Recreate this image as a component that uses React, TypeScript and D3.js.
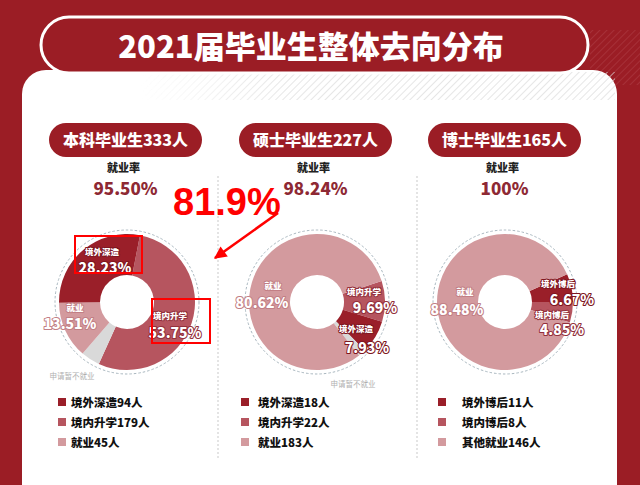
import React from "react";
import * as d3 from "d3";

// ---------- data ----------
const chartTitle = "2021届毕业生整体去向分布";
const panelTitles = ["本科毕业生333人", "硕士毕业生227人", "博士毕业生165人"];
const rateLabel = "就业率";
const employmentRates = ["95.50%", "98.24%", "100%"];

const bachelorCategories = ["境内升学", "申请暂不就业", "就业", "境外深造"];
const bachelorValues = [53.75, 4.51, 13.51, 28.23];
const masterCategories = ["境内升学", "境外深造", "申请暂不就业", "就业"];
const masterValues = [9.69, 7.93, 1.76, 80.62];
const doctorCategories = ["境外博后", "境内博后", "就业"];
const doctorValues = [6.67, 4.85, 88.48];

const bachelorLegend = ["境外深造94人", "境内升学179人", "就业45人"];
const masterLegend = ["境外深造18人", "境内升学22人", "就业183人"];
const doctorLegend = ["境外博后11人", "境内博后8人", "其他就业146人"];

const annotationValue = "81.9%";

// ---------- styles / layout ----------
const RED = "#9b1d25";
const C_DARK = "#9a1f29";
const C_MID = "#b6555f";
const C_LIGHT = "#d39a9e";
const C_GRAY = "#d9d9d9";
const FONT = "'Noto Sans CJK SC', 'Noto Sans', sans-serif";

const colorOf = (cat: string) =>
  cat.startsWith("境外") ? C_DARK : cat.startsWith("境内") ? C_MID : cat === "申请暂不就业" ? C_GRAY : C_LIGHT;
const strokeOf = (cat: string) =>
  cat.startsWith("境外") ? "#7e1620" : cat.startsWith("境内") ? "#93303b" : "#c27f85";

const CY = 302;
const R_OUT = 68;
const R_IN = 27;
const deg = (a: number) => (a * Math.PI) / 180;

// label offsets relative to each donut centre: [nameDx, nameDy, pctDx, pctDy]
const panels = [
  {
    cx: 127, pillX: 49, start: 11,
    cats: bachelorCategories, vals: bachelorValues, legend: bachelorLegend,
    legendSq: 58, legendTx: 71,
    labels: { "境外深造": [-25, -51, -22, -35], "就业": [-52, 5, -57, 21], "境内升学": [43, 13, 48, 30] } as Record<string, number[]>,
    grayLabel: [-55, 73],
  },
  {
    cx: 317, pillX: 239, start: 72,
    cats: masterCategories, vals: masterValues, legend: masterLegend,
    legendSq: 241, legendTx: 258,
    labels: { "就业": [-44, -17, -55, 0], "境内升学": [47, -11, 58, 5], "境外深造": [39, 26, 50, 45] } as Record<string, number[]>,
    grayLabel: [36, 81],
  },
  {
    cx: 505, pillX: 428, start: 66,
    cats: doctorCategories, vals: doctorValues, legend: doctorLegend,
    legendSq: 438, legendTx: 462,
    labels: { "就业": [-40, -11, -48, 7], "境外博后": [53, -19, 67, -3], "境内博后": [47, 12, 57, 27] } as Record<string, number[]>,
    grayLabel: null as number[] | null,
  },
];

const legendColors = [C_DARK, C_MID, C_LIGHT];
const legendRows = [402, 422, 442];

export default function App() {
  const arc = d3.arc<d3.PieArcDatum<number>>().innerRadius(R_IN).outerRadius(R_OUT);

  return (
    <svg
      width={640}
      height={485}
      viewBox="0 0 640 485"
      style={{ position: "absolute", left: 0, top: 0, display: "block" }}
      fontFamily={FONT}
    >
      <defs>
        <pattern id="hatch" width="5" height="5" patternUnits="userSpaceOnUse" patternTransform="rotate(45)">
          <line x1="0" y1="0" x2="0" y2="5" stroke="#d8d8d8" strokeWidth="1.6" />
        </pattern>
        <pattern id="hatchRed" width="5" height="5" patternUnits="userSpaceOnUse" patternTransform="rotate(45)">
          <line x1="0" y1="0" x2="0" y2="5" stroke="#b64a52" strokeWidth="1.4" />
        </pattern>
        <linearGradient id="fadeH" x1="0" x2="1" y1="0" y2="0">
          <stop offset="0" stopColor="#fff" stopOpacity="0" />
          <stop offset="0.3" stopColor="#fff" stopOpacity="1" />
          <stop offset="1" stopColor="#fff" stopOpacity="1" />
        </linearGradient>
        <mask id="fadeMask">
          <rect x="140" y="60" width="480" height="45" fill="url(#fadeH)" />
        </mask>
        <marker id="arrowHead" viewBox="0 0 10 10" refX="9" refY="5" markerWidth="6" markerHeight="5" orient="auto">
          <path d="M0,0 L10,5 L0,10 z" fill="#ff0000" />
        </marker>
      </defs>

      {/* background */}
      <rect x={0} y={0} width={640} height={485} fill={RED} />
      <rect x={590} y={30} width={50} height={55} fill="url(#hatchRed)" opacity={0.6} />
      {/* card */}
      <rect x={22} y={70} width={595} height={450} rx={24} fill="#fff" />
      <rect x={140} y={72} width={475} height={28} fill="url(#hatch)" mask="url(#fadeMask)" opacity={0.8} />

      {/* title pill */}
      <rect x={41} y={17} width={547} height={56} rx={28} fill={RED} stroke="#fff" strokeWidth={3} />
      <text x={311} y={58} textAnchor="middle" fill="#fff" fontSize={31} fontWeight={900}>
        {chartTitle}
      </text>

      {/* separators */}
      {[218, 417].map((x) => (
        <line key={x} x1={x} x2={x} y1={176} y2={460} stroke="#c9c9c9" strokeWidth={1} strokeDasharray="2,2" />
      ))}

      {panels.map((p, i) => {
        const pie = d3
          .pie<number>()
          .sort(null)
          .value((d) => d)
          .startAngle(deg(p.start))
          .endAngle(deg(p.start) + Math.PI * 2);
        const arcs = pie(p.vals);
        const pillW = 153;
        const pcx = p.pillX + pillW / 2;
        return (
          <g key={i}>
            {/* panel pill */}
            <rect x={p.pillX} y={123} width={pillW} height={34} rx={17} fill={RED} />
            <text x={pcx} y={146} textAnchor="middle" fill="#fff" fontSize={16} fontWeight={900}>
              {panelTitles[i]}
            </text>
            <text x={pcx - 2} y={172} textAnchor="middle" fill="#222" fontSize={11} fontWeight={900}>
              {rateLabel}
            </text>
            <text x={pcx} y={195} textAnchor="middle" fill="#8e2934" fontSize={17} fontWeight={900}>
              {employmentRates[i]}
            </text>

            {/* donut */}
            <g transform={`translate(${p.cx},${CY})`}>
              <circle r={72} fill="none" stroke="#a9b7bf" strokeWidth={1} strokeDasharray="2.5,2" />
              {arcs.map((a, j) => (
                <path key={j} d={arc(a) || ""} fill={colorOf(p.cats[j])} />
              ))}
              {p.cats.map((cat, j) => {
                const l = p.labels[cat];
                if (!l) return null;
                return (
                  <g key={"l" + j} fill="#fff" fontWeight={900} stroke={strokeOf(cat)} strokeWidth={2} strokeLinejoin="round" style={{ paintOrder: "stroke" }}>
                    <text x={l[0]} y={l[1]} textAnchor="middle" dominantBaseline="central" fontSize={8.5}>
                      {cat}
                    </text>
                    <text x={l[2]} y={l[3]} textAnchor="middle" dominantBaseline="central" fontSize={14}>
                      {p.vals[j].toFixed(2) + "%"}
                    </text>
                  </g>
                );
              })}
              {p.grayLabel && (
                <text x={p.grayLabel[0]} y={p.grayLabel[1]} textAnchor="middle" dominantBaseline="central" fontSize={7.5} fill="#b0b0b0">
                  {"申请暂不就业"}
                </text>
              )}
            </g>

            {/* legend */}
            {p.legend.map((t, j) => (
              <g key={"lg" + j}>
                <rect x={p.legendSq} y={legendRows[j] - 4} width={8} height={8} fill={legendColors[j]} />
                <text x={p.legendTx} y={legendRows[j]} dominantBaseline="central" fontSize={11.5} fontWeight={900} fill="#111">
                  {t}
                </text>
              </g>
            ))}
          </g>
        );
      })}

      {/* annotations */}
      <rect x={75} y={236} width={67} height={37} fill="none" stroke="#ff0000" strokeWidth={2} />
      <rect x={152} y={299} width={58} height={44} fill="none" stroke="#ff0000" strokeWidth={2} />
      <text x={173} y={215} fontFamily="'Liberation Sans', Arial, sans-serif" fontWeight={700} fontSize={38} fill="#ff0000">
        {annotationValue}
      </text>
      <line x1={278} y1={213} x2={215} y2={258} stroke="#ff0000" strokeWidth={2.5} markerEnd="url(#arrowHead)" />
    </svg>
  );
}
